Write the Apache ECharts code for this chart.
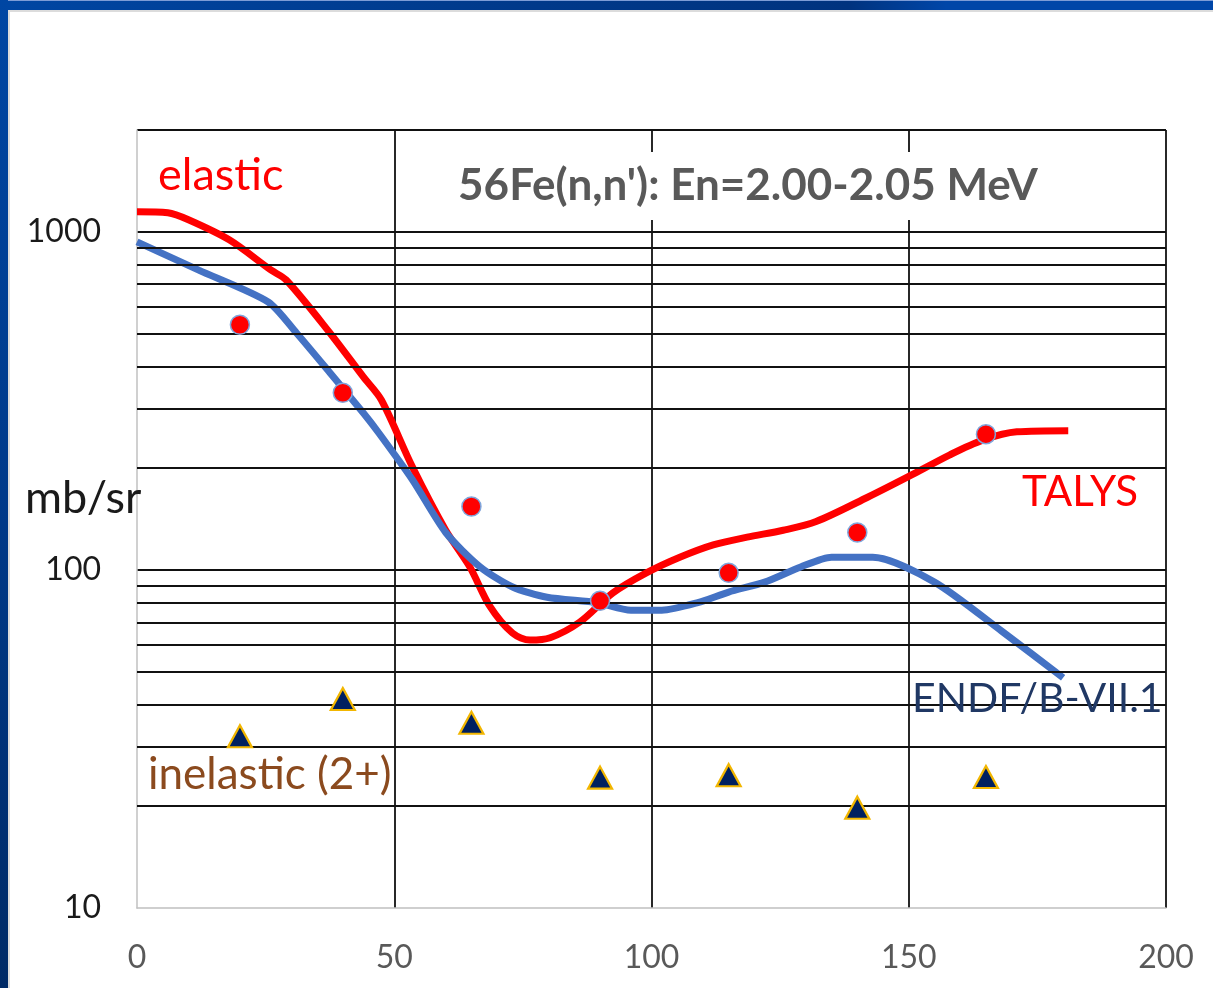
<!DOCTYPE html>
<html>
<head>
<meta charset="utf-8">
<script src="https://cdn.jsdelivr.net/npm/echarts@6/dist/echarts.min.js"></script>
<style>
  html, body { margin: 0; padding: 0; background: #ffffff; }
  #frameTop { position: absolute; left: 0; top: 0; width: 1213px; height: 10px;
    background: linear-gradient(to right, #0046a3 0%, #003a8c 40%, #00337f 70%, #0046a8 78%, #0046a8 100%);
    border-top: 1px solid #7d9cd6; box-sizing: border-box; }
  #frameLeft { position: absolute; left: 0; top: 0; width: 8px; height: 988px;
    background: linear-gradient(to bottom, #0046a3 0%, #003a8a 50%, #002a66 100%); }
  #shadowTop { position: absolute; left: 8px; top: 10px; width: 1205px; height: 2px; background: #dcdcdc; }
  #shadowLeft { position: absolute; left: 8px; top: 10px; width: 2px; height: 978px; background: #dcdcdc; }
  #chart { position: absolute; left: 0; top: 0; width: 1213px; height: 988px; }
</style>
</head>
<body>
<div id="frameTop"></div>
<div id="frameLeft"></div>
<div id="shadowTop"></div>
<div id="shadowLeft"></div>
<div id="chart"></div>
<script>
// ---- data (angle in degrees, cross-section in mb/sr) ----
const elasticAngles = [20, 40, 65, 90, 115, 140, 165];
const elasticValues = [531, 334, 154, 81, 98, 129, 252];

const inelasticAngles = [20, 40, 65, 90, 115, 140, 165];
const inelasticValues = [32.2, 41.5, 35.3, 24.3, 24.7, 19.8, 24.4];

const talysAngles = [0, 6, 10, 18, 26, 29, 37.5, 44, 47.5, 53.5, 60, 64.7, 68.6, 73, 76.4, 80.3, 86, 92.5, 99, 105.5, 112, 118.6, 125.6, 132, 142, 150, 158, 164.4, 171, 181];
const talysValues = [1146, 1138, 1085, 945, 771, 720, 502, 372, 318, 202, 131, 102, 78, 65, 62, 63, 70, 85.5, 98, 109, 118.6, 125, 131, 139, 164, 189, 219, 242, 256, 258];

const endfAngles = [0, 12, 25.5, 31, 37.5, 44, 47, 53.5, 60, 66.7, 73, 79.7, 89.4, 96, 102, 109, 115, 122, 129, 135, 143, 155, 168, 180];
const endfValues = [934, 770, 620, 502, 383, 291, 254, 185, 129, 102, 89, 83, 80, 76, 76, 80, 86, 92, 102, 109, 109, 92, 66, 48];

const xTicks = [0, 50, 100, 150, 200];
const yTickLabels = [10, 100, 1000];
const minorGridValues = [20, 30, 40, 50, 60, 70, 80, 90, 200, 300, 400, 500, 600, 700, 800, 900];

const zip = (xs, ys) => xs.map((x, i) => [x, ys[i]]);

const chart = echarts.init(document.getElementById('chart'), null, { renderer: 'canvas' });
const FONT = 'Lato, "Noto Sans", sans-serif';
const gridLineColor = '#111111';

chart.setOption({
  backgroundColor: 'transparent',
  animation: false,
  grid: { left: 137, right: 47, top: 130, bottom: 80, containLabel: false },
  xAxis: {
    type: 'value', min: xTicks[0], max: xTicks[xTicks.length - 1], interval: 50,
    axisLine: { show: true, lineStyle: { color: '#c0c0c0', width: 1.5 } },
    axisTick: { show: false },
    axisLabel: { color: '#595959', fontSize: 32, fontFamily: FONT, margin: 34 },
    splitLine: { show: true, showMinLine: false, showMaxLine: true, lineStyle: { color: gridLineColor, width: 1.8 } }
  },
  yAxis: {
    type: 'log', logBase: 10, min: 10, max: 2000,
    axisLine: { show: true, lineStyle: { color: '#c0c0c0', width: 1.5 } },
    axisTick: { show: false },
    axisLabel: {
      color: '#1a1a1a', fontSize: 32, fontFamily: FONT, margin: 36,
      formatter: v => (yTickLabels.indexOf(Math.round(v)) >= 0 ? String(Math.round(v)) : '')
    },
    splitLine: { show: true, showMinLine: false, showMaxLine: true, lineStyle: { color: gridLineColor, width: 1.8 } }
  },
  series: [
    {
      name: 'grid', type: 'line', data: [], z: 1, silent: true,
      markLine: {
        silent: true, symbol: ['none', 'none'], animation: false,
        label: { show: false },
        lineStyle: { color: gridLineColor, width: 1.8, type: 'solid' },
        data: minorGridValues.map(v => ({ yAxis: v }))
      }
    },
    {
      name: 'TALYS', type: 'line', data: zip(talysAngles, talysValues), z: 3,
      showSymbol: false, smooth: 0.3,
      lineStyle: { color: '#ff0000', width: 7 }, itemStyle: { color: '#ff0000' }
    },
    {
      name: 'ENDF/B-VII.1', type: 'line', data: zip(endfAngles, endfValues), z: 4,
      showSymbol: false, smooth: 0.25,
      lineStyle: { color: '#4472c4', width: 7 }, itemStyle: { color: '#4472c4' }
    },
    {
      name: 'elastic', type: 'scatter', data: zip(elasticAngles, elasticValues), z: 5,
      symbol: 'circle', symbolSize: 19,
      itemStyle: { color: '#ff0000', borderColor: '#7fa6dc', borderWidth: 1.5, opacity: 1 }
    },
    {
      name: 'inelastic (2+)', type: 'scatter', data: zip(inelasticAngles, inelasticValues), z: 5,
      symbol: 'triangle', symbolSize: [24, 22],
      itemStyle: { color: '#002060', borderColor: '#f2b600', borderWidth: 2.2, opacity: 1 }
    }
  ],
  graphic: [
    { type: 'text', z: 100, x: 748, y: 186,
      style: { text: "56Fe(n,n'): En=2.00-2.05 MeV", fill: '#595959', font: 'bold 44px ' + FONT,
        align: 'center', verticalAlign: 'middle', backgroundColor: '#ffffff', padding: [12, 22] } },
    { type: 'text', z: 100, x: 158, y: 175,
      style: { text: 'elastic', fill: '#ff0000', font: '45px ' + FONT, align: 'left', verticalAlign: 'middle' } },
    { type: 'text', z: 100, x: 1022, y: 492,
      style: { text: 'TALYS', fill: '#ff0000', font: '42px ' + FONT, align: 'left', verticalAlign: 'middle' } },
    { type: 'text', z: 100, x: 912, y: 699,
      style: { text: 'ENDF/B-VII.1', fill: '#203864', font: '41px ' + FONT, align: 'left', verticalAlign: 'middle' } },
    { type: 'text', z: 100, x: 148, y: 775,
      style: { text: 'inelastic (2+)', fill: '#8b4a1e', font: '44px ' + FONT, align: 'left', verticalAlign: 'middle' } },
    { type: 'text', z: 100, x: 25, y: 498,
      style: { text: 'mb/sr', fill: '#1a1a1a', font: '45px ' + FONT, align: 'left', verticalAlign: 'middle' } }
  ]
});
</script>
</body>
</html>
